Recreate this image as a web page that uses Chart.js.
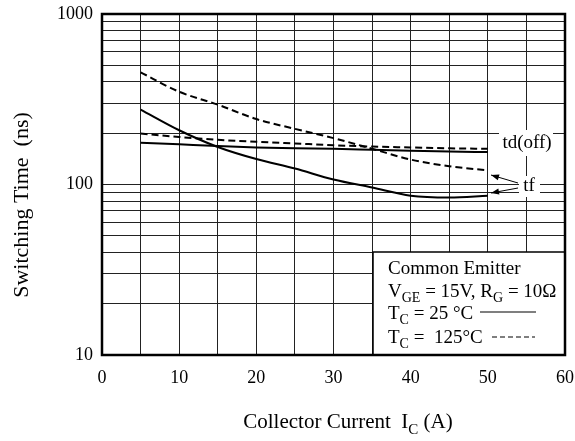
<!DOCTYPE html>
<html>
<head>
<meta charset="utf-8">
<script src="https://cdn.jsdelivr.net/npm/chart.js@4.4.1/dist/chart.umd.min.js"></script>
<style>
  html, body { margin: 0; padding: 0; background: #fff; }
  #wrap { width: 575px; height: 441px; }
</style>
</head>
<body>
<div id="wrap"><canvas id="chart-switching" width="575" height="441"></canvas></div>
<script>
// ---- data ----
const currents = [5, 10, 15, 20, 25, 30, 35, 40, 45, 50]; // Ic, A
const tdOff25 = [176, 172, 168, 165, 163, 162, 160, 158, 156, 155];
const tdOff125 = [199, 190, 183, 178, 174, 170, 167, 165, 163, 162];
const tf25 = [275, 208, 166, 141, 124, 107, 96, 86, 84, 86];
const tf125 = [455, 350, 294, 242, 212, 187, 162, 140, 128, 121];

const xTickLabels = [0, 10, 20, 30, 40, 50, 60];
const yTickLabels = [10, 100, 1000];

const FONT = '"Liberation Serif", "Times New Roman", serif';
const DASH = [7, 4];

function toPoints(values) {
  return currents.map((x, i) => ({ x: x, y: values[i] }));
}

function curve(label, values, dashed) {
  return {
    label: label,
    data: toPoints(values),
    borderColor: "#000",
    borderWidth: 2,
    borderDash: dashed ? DASH : [],
    pointRadius: 0,
    fill: false,
    cubicInterpolationMode: "monotone",
  };
}

// text with subscripts: parts = [[text, isSub], ...]
function richWidth(ctx, parts, size) {
  let w = 0;
  parts.forEach(([t, sub]) => {
    ctx.font = `${sub ? Math.round(size * 0.72) : size}px ${FONT}`;
    w += ctx.measureText(t).width;
  });
  return w;
}

function drawRich(ctx, parts, x, y, size) {
  ctx.textAlign = "left";
  ctx.textBaseline = "alphabetic";
  parts.forEach(([t, sub]) => {
    ctx.font = `${sub ? Math.round(size * 0.72) : size}px ${FONT}`;
    ctx.fillText(t, x, sub ? y + size * 0.28 : y);
    x += ctx.measureText(t).width;
  });
}

function arrow(ctx, x1, y1, x2, y2) {
  ctx.beginPath();
  ctx.moveTo(x1, y1);
  ctx.lineTo(x2, y2);
  ctx.stroke();
  const a = Math.atan2(y2 - y1, x2 - x1);
  const len = 8, w = 3;
  ctx.beginPath();
  ctx.moveTo(x2, y2);
  ctx.lineTo(x2 - len * Math.cos(a) + w * Math.sin(a), y2 - len * Math.sin(a) - w * Math.cos(a));
  ctx.lineTo(x2 - len * Math.cos(a) - w * Math.sin(a), y2 - len * Math.sin(a) + w * Math.cos(a));
  ctx.closePath();
  ctx.fill();
}

// frame, curve labels, legend box and axis titles
const decorPlugin = {
  id: "decor",
  afterDatasetsDraw(chart) {
    const { ctx, chartArea: a } = chart;
    ctx.save();
    ctx.fillStyle = "#000";
    ctx.strokeStyle = "#000";

    // curve labels
    ctx.fillStyle = "#fff";
    ctx.fillRect(499, 130, 54, 26);
    ctx.fillRect(519, 176, 21, 21);
    ctx.fillStyle = "#000";
    ctx.font = `19px ${FONT}`;
    ctx.textAlign = "center";
    ctx.textBaseline = "middle";
    ctx.fillText("td(off)", 527, 143);
    ctx.fillText("tf", 529, 186);
    ctx.lineWidth = 1;
    arrow(ctx, 518, 183, 491, 175);
    arrow(ctx, 518, 188, 491, 193);

    // legend box
    const lx = 373, ly = 252;
    ctx.fillStyle = "#fff";
    ctx.fillRect(lx, ly, a.right - lx, a.bottom - ly);
    ctx.lineWidth = 1.5;
    ctx.strokeRect(lx, ly, a.right - lx, a.bottom - ly);
    ctx.fillStyle = "#000";
    const fs = 19;
    drawRich(ctx, [["Common Emitter", false]], 388, 274, fs);
    drawRich(ctx, [["V", false], ["GE", true], [" = 15V, R", false], ["G", true], [" = 10\u03A9", false]], 388, 297, fs);
    drawRich(ctx, [["T", false], ["C", true], [" = 25 \u00B0C", false]], 388, 319, fs);
    drawRich(ctx, [["T", false], ["C", true], [" =  125\u00B0C", false]], 388, 343, fs);
    ctx.lineWidth = 1.2;
    ctx.beginPath();
    ctx.moveTo(480, 312);
    ctx.lineTo(536, 312);
    ctx.stroke();
    ctx.setLineDash([5, 3]);
    ctx.beginPath();
    ctx.moveTo(492, 337);
    ctx.lineTo(535, 337);
    ctx.stroke();
    ctx.setLineDash([]);

    // plot frame
    ctx.lineWidth = 2.5;
    ctx.strokeRect(a.left, a.top, a.right - a.left, a.bottom - a.top);

    // axis titles
    ctx.save();
    ctx.translate(22, 205);
    ctx.rotate(-Math.PI / 2);
    ctx.font = `22px ${FONT}`;
    ctx.textAlign = "center";
    ctx.textBaseline = "middle";
    ctx.fillText("Switching Time  (ns)", 0, 0);
    ctx.restore();

    const xt = [["Collector Current  I", false], ["C", true], [" (A)", false]];
    const w = richWidth(ctx, xt, 21);
    drawRich(ctx, xt, 348 - w / 2, 428, 21);

    ctx.restore();
  },
};

const ctx = document.getElementById("chart-switching").getContext("2d");

new Chart(ctx, {
  type: "line",
  data: {
    datasets: [
      curve("td(off) 25C", tdOff25, false),
      curve("td(off) 125C", tdOff125, true),
      curve("tf 25C", tf25, false),
      curve("tf 125C", tf125, true),
    ],
  },
  options: {
    responsive: false,
    animation: false,
    layout: { padding: { top: 14, right: 10, left: 0, bottom: 0 } },
    plugins: {
      legend: { display: false },
      tooltip: { enabled: false },
    },
    scales: {
      x: {
        type: "linear",
        min: 0,
        max: 60,
        afterFit: (scale) => {
          scale.height = 86;
          scale.paddingLeft = 0;
          scale.paddingRight = 0;
        },
        grid: { color: "#222", lineWidth: 1, drawTicks: false },
        border: { display: false },
        ticks: {
          stepSize: 5,
          autoSkip: false,
          maxRotation: 0,
          padding: 12,
          color: "#000",
          font: { family: FONT, size: 18 },
          callback: (v) => (xTickLabels.includes(v) ? String(v) : ""),
        },
      },
      y: {
        type: "logarithmic",
        min: 10,
        max: 1000,
        afterFit: (scale) => {
          scale.width = 102;
          scale.paddingTop = 0;
          scale.paddingBottom = 0;
        },
        afterBuildTicks: (scale) => {
          const ticks = [];
          [10, 100].forEach((d) => {
            for (let k = 1; k < 10; k++) ticks.push({ value: d * k });
          });
          ticks.push({ value: 1000 });
          scale.ticks = ticks;
        },
        grid: { color: "#222", lineWidth: 1, drawTicks: false },
        border: { display: false },
        ticks: {
          autoSkip: false,
          padding: 9,
          color: "#000",
          font: { family: FONT, size: 18 },
          callback: (v) => (yTickLabels.includes(v) ? String(v) : ""),
        },
      },
    },
  },
  plugins: [decorPlugin],
});
</script>
</body>
</html>
